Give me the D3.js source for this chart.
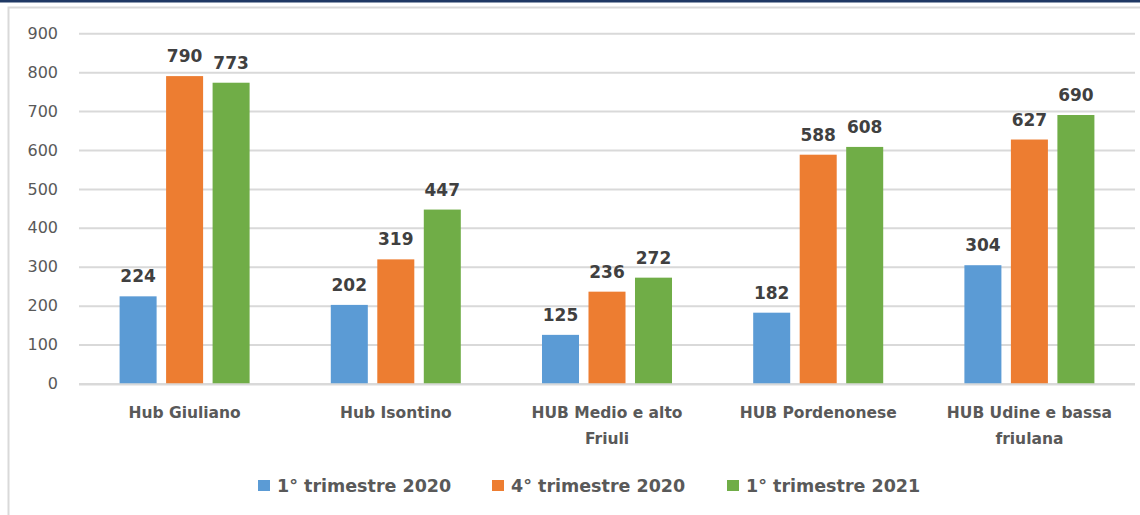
<!DOCTYPE html>
<html>
<head>
<meta charset="utf-8">
<script src="https://cdn.jsdelivr.net/npm/d3@7"></script>
<style>
  body { margin: 0; background: #fff; }
  svg { display: block; }
</style>
</head>
<body>
<svg id="chart" width="1140" height="515"></svg>
<script>
// hubs on the x axis (second line where the label wraps)
var categories = ["Hub Giuliano", "Hub Isontino", "HUB Medio e alto Friuli", "HUB Pordenonese", "HUB Udine e bassa friulana"];
var categoryLines = [["Hub Giuliano"], ["Hub Isontino"], ["HUB Medio e alto", "Friuli"], ["HUB Pordenonese"], ["HUB Udine e bassa", "friulana"]];

// series, one value per hub
var seriesNames = ["1° trimestre 2020", "4° trimestre 2020", "1° trimestre 2021"];
var q1_2020 = [224, 202, 125, 182, 304];
var q4_2020 = [790, 319, 236, 588, 627];
var q1_2021 = [773, 447, 272, 608, 690];
var seriesValues = [q1_2020, q4_2020, q1_2021];

var yTicks = [0, 100, 200, 300, 400, 500, 600, 700, 800, 900];
var colors = ["#5B9BD5", "#ED7D31", "#70AD47"];

var font = "'DejaVu Sans', Verdana, sans-serif";

var svg = d3.select("#chart");

// outer frame: dark rule on top, light border of the chart area
svg.append("rect")
	.attr("x", 0).attr("y", 0)
	.attr("width", 1140).attr("height", 2.5)
	.style("fill", "#1F3864");

svg.append("path")
	.attr("d", "M8.5,520 L8.5,7.5 L1145,7.5")
	.style("fill", "none")
	.style("stroke", "#D9D9D9")
	.style("stroke-width", 2);

var y = d3.scaleLinear()
	.domain([0, 900])
	.range([383.5, 33.3]);

var x0 = d3.scaleBand()
	.domain(categories)
	.range([79, 1135])
	.padding(0);

var x1 = d3.scaleBand()
	.domain(seriesNames)
	.range([0, x0.bandwidth()])
	.paddingInner(0.204)
	.paddingOuter(0.873);

// gridlines and y tick labels
var yAxis = d3.axisLeft(y)
	.tickValues(yTicks)
	.tickSize(-(1135 - 79))
	.tickPadding(21);

var gy = svg.append("g")
	.attr("transform", "translate(79,0)")
	.call(yAxis);

gy.select(".domain").remove();
gy.selectAll(".tick line")
	.style("stroke", "#D9D9D9")
	.style("stroke-width", 2);
gy.selectAll(".tick text")
	.style("font-family", font)
	.style("font-size", "16px")
	.style("fill", "#595959");

// bars and value labels
var groups = svg.append("g").selectAll("g")
	.data(categories)
	.enter().append("g")
	.attr("transform", function(d) { return "translate(" + x0(d) + ",0)"; });

groups.each(function(cat, ci) {
	var g = d3.select(this);
	seriesNames.forEach(function(s, si) {
		var v = seriesValues[si][ci];
		g.append("rect")
			.attr("x", x1(s))
			.attr("y", y(v))
			.attr("width", x1.bandwidth())
			.attr("height", y(0) - y(v))
			.style("fill", colors[si]);

		g.append("text")
			.attr("x", x1(s) + x1.bandwidth() / 2)
			.attr("y", y(v) - 14)
			.attr("text-anchor", "middle")
			.style("font-family", font)
			.style("font-size", "17px")
			.style("font-weight", "bold")
			.style("fill", "#404040")
			.text(v);
	});
});

// redraw the base line over the bars
svg.append("line")
	.attr("x1", 79).attr("x2", 1135)
	.attr("y1", y(0) + 1).attr("y2", y(0) + 1)
	.style("stroke", "#D9D9D9")
	.style("stroke-width", 2);

// category labels
categories.forEach(function(cat, ci) {
	var t = svg.append("text")
		.attr("x", x0(cat) + x0.bandwidth() / 2)
		.attr("y", 418)
		.attr("text-anchor", "middle")
		.style("font-family", font)
		.style("font-size", "15.5px")
		.style("font-weight", "bold")
		.style("fill", "#595959");
	categoryLines[ci].forEach(function(line, li) {
		t.append("tspan")
			.attr("x", x0(cat) + x0.bandwidth() / 2)
			.attr("dy", li == 0 ? 0 : 26)
			.text(line);
	});
});

// legend
var legendX = [258, 492, 727];
var legend = svg.append("g");
seriesNames.forEach(function(s, si) {
	legend.append("rect")
		.attr("x", legendX[si])
		.attr("y", 480)
		.attr("width", 12)
		.attr("height", 11)
		.style("fill", colors[si]);
	legend.append("text")
		.attr("x", legendX[si] + 19)
		.attr("y", 492)
		.style("font-family", font)
		.style("font-size", "17.5px")
		.style("font-weight", "bold")
		.style("fill", "#595959")
		.text(s);
});
</script>
</body>
</html>
